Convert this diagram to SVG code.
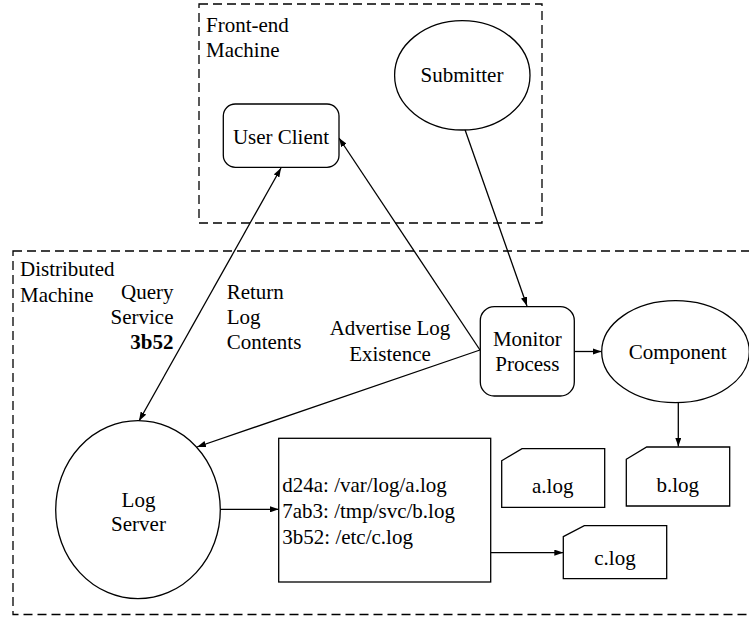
<svg xmlns="http://www.w3.org/2000/svg" width="749" height="617" viewBox="0 0 749 617">
  <defs>
    <marker id="arrow" viewBox="0 0 10 7" refX="10" refY="3.5" markerWidth="9" markerHeight="6.3" markerUnits="userSpaceOnUse" orient="auto-start-reverse">
      <path d="M0,0 L10,3.5 L0,7 z" fill="#000"/>
    </marker>
  </defs>
  <style>
    .t { font-family: 'Liberation Serif', 'DejaVu Serif', serif; font-size: 21px; fill: #000; }
    .mid { text-anchor: middle; }
    .end { text-anchor: end; }
    .bold { font-weight: bold; }
    .shape { fill: #fff; stroke: #000; stroke-width: 1.3; }
    .region { fill: none; stroke: #000; stroke-width: 1.3; stroke-dasharray: 9 5; }
    .edge { fill: none; stroke: #000; stroke-width: 1.3; }
  </style>
  <rect width="749" height="617" fill="#fff"/>

  <g class="t" font-family="Liberation Serif, DejaVu Serif, serif">
  <!-- machine boundaries -->
  <g id="front-end-machine">
    <rect class="region" x="199" y="4" width="343" height="219"/>
    <text x="206" y="32">Front-end</text>
    <text x="206" y="57">Machine</text>
  </g>
  <g id="distributed-machine">
    <rect class="region" x="13" y="251" width="745" height="363.5"/>
    <text x="20" y="276">Distributed</text>
    <text x="20" y="302">Machine</text>
  </g>

  <!-- connectors -->
  <g id="connectors">
    <line class="edge" x1="139" y1="421" x2="281" y2="168" marker-start="url(#arrow)" marker-end="url(#arrow)"/>
    <line class="edge" x1="480" y1="350" x2="339" y2="138" marker-end="url(#arrow)"/>
    <line class="edge" x1="480" y1="350" x2="197" y2="447" marker-end="url(#arrow)"/>
    <line class="edge" x1="463" y1="124" x2="527" y2="306" marker-end="url(#arrow)"/>
    <line class="edge" x1="574.5" y1="351.5" x2="601.5" y2="351.5" marker-end="url(#arrow)"/>
    <line class="edge" x1="678.3" y1="402.7" x2="678.3" y2="446.5" marker-end="url(#arrow)"/>
    <line class="edge" x1="220.5" y1="509.3" x2="278.7" y2="509.3" marker-end="url(#arrow)"/>
    <line class="edge" x1="490.7" y1="552.7" x2="563.3" y2="552.7" marker-end="url(#arrow)"/>
    <text class="end" x="173.5" y="299">Query</text>
    <text class="end" x="173.5" y="323.5">Service</text>
    <text class="end bold" x="173.5" y="349.3">3b52</text>
    <text x="226.7" y="299">Return</text>
    <text x="226.7" y="323.5">Log</text>
    <text x="226.7" y="349.3">Contents</text>
    <text class="mid" x="390" y="335">Advertise Log</text>
    <text class="mid" x="390" y="360.7">Existence</text>
  </g>

  <!-- nodes -->
  <g id="submitter">
    <ellipse class="shape" cx="462.3" cy="75.3" rx="67.7" ry="54.7"/>
    <text class="mid" x="462" y="82">Submitter</text>
  </g>
  <g id="user-client">
    <rect class="shape" x="223.3" y="104" width="115.7" height="63.3" rx="12"/>
    <text class="mid" x="281" y="144">User Client</text>
  </g>
  <g id="monitor-process">
    <rect class="shape" x="480.3" y="306.7" width="94" height="89.3" rx="14"/>
    <text class="mid" x="527.3" y="346">Monitor</text>
    <text class="mid" x="527.3" y="371">Process</text>
  </g>
  <g id="component">
    <ellipse class="shape" cx="675.5" cy="351.7" rx="73.8" ry="51"/>
    <text class="mid" x="677.7" y="359">Component</text>
  </g>
  <g id="log-server">
    <ellipse class="shape" cx="138" cy="509.7" rx="82.3" ry="89"/>
    <text class="mid" x="138.5" y="506.7">Log</text>
    <text class="mid" x="138.5" y="530.5">Server</text>
  </g>
  <g id="log-table">
    <rect class="shape" x="278.7" y="438.3" width="212" height="143.7"/>
    <text x="282.3" y="491.7">d24a: /var/log/a.log</text>
    <text x="282.3" y="518.3">7ab3: /tmp/svc/b.log</text>
    <text x="282.3" y="544">3b52: /etc/c.log</text>
  </g>
  <g id="a-log">
    <path class="shape" d="M501.7,460.7 L522,448.7 L604.7,448.7 L604.7,507.3 L501.7,507.3 z"/>
    <text class="mid" x="552.7" y="492.7">a.log</text>
  </g>
  <g id="b-log">
    <path class="shape" d="M626.3,459.3 L646.7,447 L729.7,447 L729.7,506 L626.3,506 z"/>
    <text class="mid" x="677.7" y="491.7">b.log</text>
  </g>
  <g id="c-log">
    <path class="shape" d="M563.3,536.7 L584.3,525.7 L666.7,525.7 L666.7,578.7 L563.3,578.7 z"/>
    <text class="mid" x="615" y="565">c.log</text>
  </g>
  </g>
</svg>
